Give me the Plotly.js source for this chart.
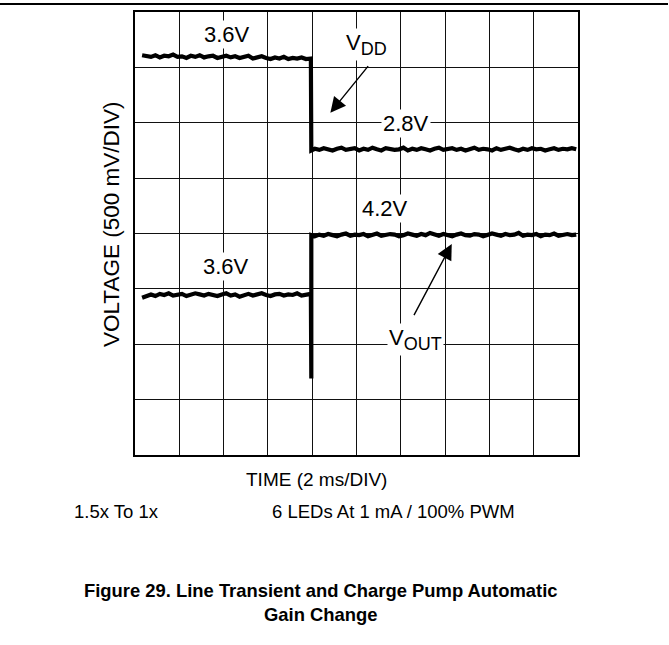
<!DOCTYPE html>
<html>
<head>
<meta charset="utf-8">
<script src="https://cdn.plot.ly/plotly-3.0.1.min.js"></script>
<style>html,body{margin:0;padding:0;background:#fff;}#chart{width:669px;height:645px;}</style>
</head>
<body>
<div id="chart"></div>
<script>
// Time in divisions (2 ms/DIV), voltage in divisions (500 mV/DIV) from the bottom of the screen
var tBefore = [0.16,0.26,0.36,0.46,0.56,0.66,0.76,0.86,0.96,1.06,1.16,1.26,1.36,1.46,1.56,1.66,1.76,1.86,1.96,2.06,2.16,2.26,2.36,2.46,2.56,2.66,2.76,2.86,2.96,3.06,3.16,3.26,3.36,3.46,3.56,3.66,3.76,3.86,3.97];
var tAfter = [3.98,4.06,4.16,4.26,4.36,4.46,4.56,4.66,4.76,4.86,4.96,5.06,5.16,5.26,5.36,5.46,5.56,5.66,5.76,5.86,5.96,6.06,6.16,6.26,6.36,6.46,6.56,6.66,6.76,6.86,6.96,7.06,7.16,7.26,7.36,7.46,7.56,7.66,7.76,7.86,7.96,8.06,8.16,8.26,8.36,8.46,8.56,8.66,8.76,8.86,8.96,9.06,9.16,9.26,9.36,9.46,9.56,9.66,9.76,9.86,9.96];

var vddBefore = [7.22,7.20,7.19,7.22,7.18,7.21,7.20,7.23,7.19,7.20,7.17,7.21,7.19,7.22,7.18,7.20,7.21,7.17,7.19,7.21,7.18,7.20,7.17,7.19,7.21,7.16,7.18,7.20,7.17,7.15,7.18,7.16,7.19,7.15,7.17,7.16,7.18,7.15,7.16];
var vddAfter = [5.50,5.53,5.51,5.54,5.52,5.50,5.53,5.55,5.51,5.52,5.54,5.50,5.53,5.51,5.55,5.52,5.50,5.54,5.53,5.51,5.52,5.55,5.50,5.53,5.51,5.54,5.52,5.50,5.53,5.55,5.51,5.52,5.54,5.51,5.53,5.50,5.52,5.55,5.51,5.53,5.52,5.50,5.54,5.51,5.53,5.55,5.52,5.50,5.53,5.51,5.54,5.52,5.53,5.50,5.52,5.54,5.51,5.53,5.52,5.54,5.52];

var voutBefore = [2.84,2.88,2.90,2.87,2.91,2.89,2.92,2.88,2.90,2.91,2.87,2.89,2.92,2.90,2.88,2.91,2.89,2.87,2.90,2.92,2.88,2.90,2.86,2.89,2.91,2.88,2.90,2.92,2.89,2.87,2.90,2.91,2.88,2.90,2.89,2.92,2.88,2.90,2.91];
var tSpike = [3.98];
var voutSpike = [1.38];
var voutAfter = [3.97,3.95,3.98,3.96,3.99,3.97,3.95,3.98,4.00,3.96,3.98,3.97,3.99,3.95,3.98,4.00,3.96,3.97,3.99,3.98,3.95,3.97,4.00,3.98,3.96,3.99,3.97,4.01,3.98,3.96,3.99,3.97,3.95,3.98,4.00,3.97,3.96,3.99,3.98,3.95,3.97,4.00,3.98,3.96,3.99,3.97,3.98,4.01,3.96,3.98,3.97,3.99,3.95,3.98,3.97,4.00,3.96,3.98,3.99,3.97,3.98];

var FONT = 'Liberation Sans, Arial, sans-serif';
var lineStyle = {color: '#000', width: 4.2};

var traces = [
  {x: tBefore.concat(tAfter), y: vddBefore.concat(vddAfter), mode: 'lines', line: lineStyle, hoverinfo: 'skip'},
  {x: tBefore.concat(tSpike, tAfter), y: voutBefore.concat(voutSpike, voutAfter), mode: 'lines', line: lineStyle, hoverinfo: 'skip'}
];

function lab(text, x, y, size) {
  return {text: text, x: x, y: y, xref: 'x', yref: 'y', showarrow: false,
          bgcolor: '#fff', borderpad: 1, font: {family: FONT, size: size || 22, color: '#000'},
          xanchor: 'center', yanchor: 'middle'};
}
function arrow(hx, hy, tx, ty) {
  return {text: '', x: hx, y: hy, ax: tx, ay: ty, xref: 'x', yref: 'y', axref: 'x', ayref: 'y',
          showarrow: true, arrowhead: 2, arrowsize: 2.2, arrowwidth: 1.4, arrowcolor: '#000', standoff: 0, startstandoff: 0};
}
function ptxt(text, x, y, size, opts) {
  var a = {text: text, x: x, y: y, xref: 'paper', yref: 'paper', showarrow: false,
           font: {family: FONT, size: size, color: '#000'}, xanchor: 'center', yanchor: 'middle'};
  for (var k in opts) a[k] = opts[k];
  return a;
}

var layout = {
  width: 669, height: 645,
  margin: {l: 135, r: 91, t: 12, b: 190},
  paper_bgcolor: '#fff', plot_bgcolor: '#fff',
  showlegend: false,
  xaxis: {range: [0, 10], dtick: 1, tick0: 0, showgrid: true, gridcolor: '#111', gridwidth: 1.2,
          zeroline: false, showticklabels: false, ticks: '', showline: true, mirror: true,
          linecolor: '#000', linewidth: 2, fixedrange: true},
  yaxis: {range: [0, 8], dtick: 1, tick0: 0, showgrid: true, gridcolor: '#111', gridwidth: 1.2,
          zeroline: false, showticklabels: false, ticks: '', showline: true, mirror: true,
          linecolor: '#000', linewidth: 2, fixedrange: true},
  shapes: [
    {type: 'line', xref: 'paper', yref: 'paper', x0: -135/443, x1: 533/443, y0: 451/443, y1: 451/443,
     line: {color: '#000', width: 2}}
  ],
  annotations: [
    lab('3.6V', 2.07, 7.6),
    lab('V<sub><span style="font-size:18px">DD</span></sub>', 5.23, 7.42),
    lab('2.8V', 6.12, 5.99),
    lab('4.2V', 5.64, 4.46),
    lab('3.6V', 2.06, 3.41),
    lab('V<sub><span style="font-size:18px">OUT</span></sub>', 6.33, 2.08),
    arrow(4.41, 6.18, 5.29, 7.05),
    arrow(7.15, 3.81, 6.28, 2.50),
    ptxt('VOLTAGE (500 mV/DIV)', -0.0530, 0.5203, 22.5, {textangle: -90}),
    ptxt('TIME (2 ms/DIV)', 0.4086, -0.0564, 19),
    ptxt('1.5x To 1x', -0.1429, -0.1275, 18.5, {xanchor: 'left'}),
    ptxt('6 LEDs At 1 mA / 100% PWM', 0.3047, -0.1275, 18.5, {xanchor: 'left'}),
    ptxt('<b>Figure 29. Line Transient and Charge Pump Automatic</b><br><b>Gain Change</b>', 0.4194, -0.334, 18.4)
  ]
};

Plotly.newPlot('chart', traces, layout, {displayModeBar: false, staticPlot: true});
</script>
</body>
</html>
